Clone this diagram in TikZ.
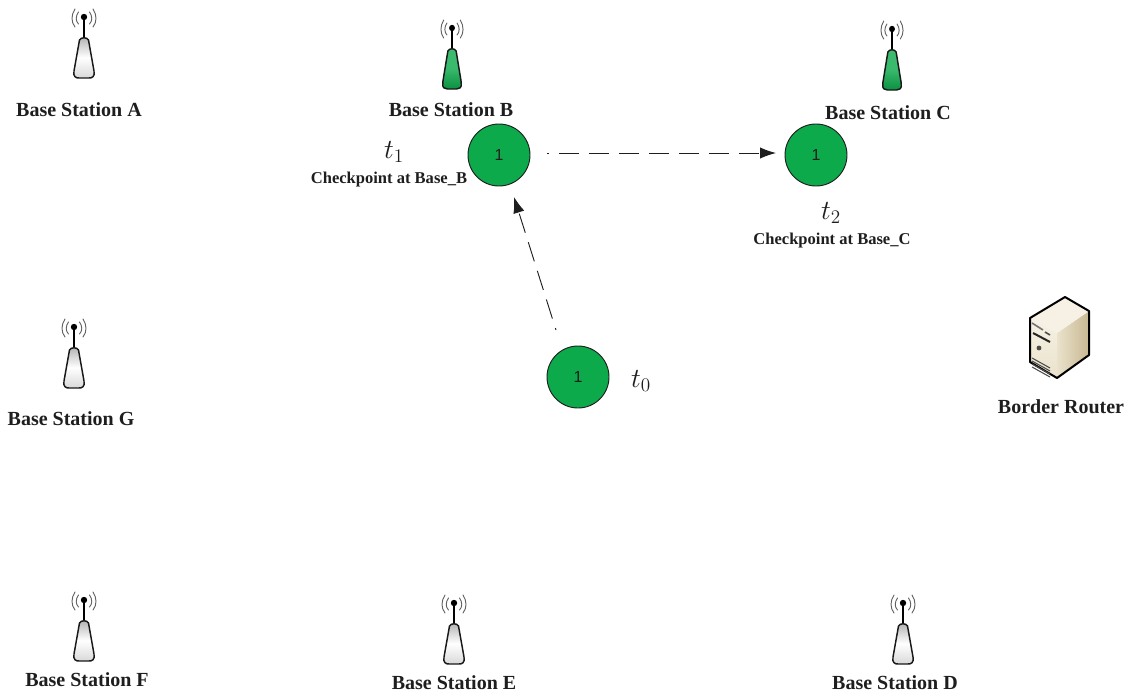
\documentclass[tikz,border=0pt]{standalone}
\usepackage{fontspec}
\setmainfont{Liberation Serif}
\newfontfamily\numfont{Liberation Sans}
\usetikzlibrary{arrows.meta}
\definecolor{nodegreen}{RGB}{13,170,76}
\definecolor{inkdark}{RGB}{30,30,30}
\definecolor{servlight}{RGB}{246,241,228}
\definecolor{servmid}{RGB}{234,226,204}
\definecolor{servdark}{RGB}{200,184,146}
\tikzset{
  x=0.75pt,y=-0.75pt,
  stationlabel/.style={font=\bfseries\fontsize{15}{17}\selectfont,text=inkdark,inner sep=0pt},
  checklabel/.style={font=\bfseries\fontsize{12.4}{14}\selectfont,text=inkdark,inner sep=0pt},
  timelabel/.style={font=\fontsize{20}{22}\selectfont,text=inkdark,inner sep=0pt},
  token/.style={circle,draw=inkdark,line width=0.7pt,fill=nodegreen,minimum size=46.5pt,inner sep=0pt,font=\numfont\fontsize{12}{13}\selectfont,text=inkdark},
  move/.style={draw=inkdark,line width=0.7pt,-{Latex[length=12pt,width=8.5pt]},
    dash pattern=on 1.5pt off 7.5pt on 15pt off 7.5pt on 15pt off 7.5pt on 15pt off 7.5pt on 15pt off 7.5pt on 15pt off 7.5pt on 15pt off 7.5pt on 15pt off 7.5pt on 15pt off 7.5pt on 15pt off 7.5pt on 15pt off 7.5pt on 15pt off 7.5pt},
  wave/.style={draw=inkdark!70,line width=0.7pt,line cap=round},
  pics/antenna/.style n args={3}{code={
    \draw[wave] (-5.5,-5) .. controls (-8.5,-1) and (-8.5,4) .. (-5.5,7);
    \draw[wave] (5.5,-5) .. controls (8.5,-1) and (8.5,4) .. (5.5,7);
    \draw[wave] (-9,-8) .. controls (-13,-2) and (-13,5) .. (-9,10);
    \draw[wave] (9,-8) .. controls (13,-2) and (13,5) .. (9,10);
    \draw[black,line width=1.5pt] (0,0) -- (0,22);
    \fill[black] (0,0) circle[radius=3.2];
    \path[draw=black!90,line width=1.1pt,line join=round,top color=#1,bottom color=#3,middle color=#2]
      (-4.5,23) .. controls (-3,20) and (3,20) .. (4.5,23)
      -- (10,54) .. controls (11,60) and (8,61) .. (5,61)
      -- (-5,61) .. controls (-8,61) and (-11,60) .. (-10,54) -- cycle;
  }}
}
\begin{document}
\begin{tikzpicture}
\useasboundingbox (0,0) rectangle (1130,696);

% base stations
\pic at (84,17) {antenna={white!70!black}{white}{white!85!black}};
\pic[xscale=0.92] at (452,28) {antenna={nodegreen!80!white}{nodegreen!82!white}{nodegreen!85!black}};
\pic[xscale=0.92] at (892,29) {antenna={nodegreen!80!white}{nodegreen!82!white}{nodegreen!85!black}};
\pic at (74,327) {antenna={white!70!black}{white}{white!85!black}};
\pic at (84,600) {antenna={white!70!black}{white}{white!85!black}};
\pic at (454,603) {antenna={white!70!black}{white}{white!85!black}};
\pic at (903,603) {antenna={white!70!black}{white}{white!85!black}};

\node[stationlabel] (labA) at (79,110) {Base Station A};
\node[stationlabel] (labB) at (451,110) {Base Station B};
\node[stationlabel] (labC) at (888,113) {Base Station C};
\node[stationlabel] (labG) at (71,419) {Base Station G};
\node[stationlabel] (labF) at (87,680) {Base Station F};
\node[stationlabel] (labE) at (454,683) {Base Station E};
\node[stationlabel] (labD) at (895,683) {Base Station D};

% server
\shade[left color=servmid,right color=servdark] (1057,333) -- (1089,311) -- (1089,355) -- (1057,378) -- cycle;
\fill[servlight] (1030,318) -- (1065,297) -- (1089,311) -- (1057,333) -- cycle;
\shade[top color=servlight,bottom color=servmid] (1030,318) -- (1057,333) -- (1057,378) -- (1030,362) -- cycle;
\draw[black,line width=1.5pt,line join=round] (1030,318) -- (1065,297) -- (1089,311) -- (1089,355) -- (1057,378) -- (1030,362) -- cycle;
\draw[black!55,line width=1.2pt] (1032,323) -- (1043,330);
\draw[black!85,line width=1.5pt] (1033,333) -- (1050,342);
\draw[black!70,line width=1.2pt] (1045,332) -- (1050,335);
\fill[black!70] (1039,348) circle[radius=2.4];
\foreach \k in {0,1,2,3}{
  \draw[black!70,line width=0.8pt] (1032,{358+\k*3}) -- (1050,{368+\k*3});
}

\node[stationlabel] (labR) at (1061,407) {Border Router};

% tokens
\node[token] (t0) at (578,377) {1};
\node[token] (t1) at (499,155) {1};
\node[token] (t2) at (816,155) {1};

\node[timelabel] (lt0) at (641,381) {$t_0$};
\node[timelabel] (lt1) at (394,152) {$t_1$};
\node[timelabel] (lt2) at (831,213) {$t_2$};
\node[checklabel] (c1) at (389,180) {Checkpoint at Base\_B};
\node[checklabel] (c2) at (832,241) {Checkpoint at Base\_C};

% moves
\coordinate (m0s) at (556,330);
\coordinate (m0e) at (514,197);
\coordinate (m1s) at (547,153);
\coordinate (m1e) at (776,153);
\draw[move] (m0s) -- (m0e);
\draw[move] (m1s) -- (m1e);
\end{tikzpicture}
\end{document}
